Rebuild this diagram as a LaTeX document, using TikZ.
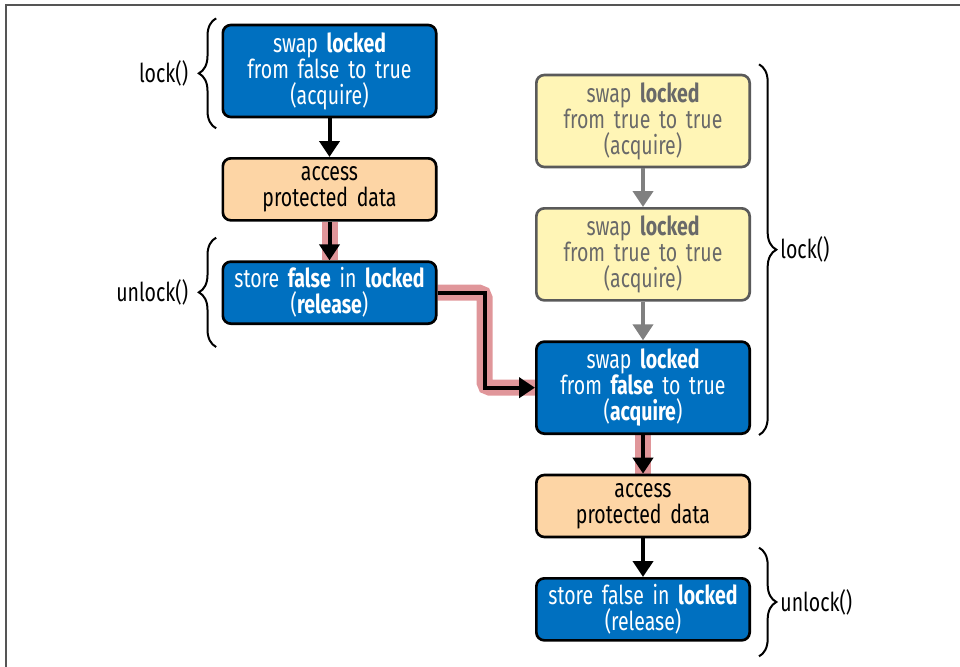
\documentclass[tikz,border=0pt]{standalone}
\usepackage{fontspec}
\setmainfont{Fira Sans}[FakeStretch=0.75, WordSpace=0.55]
\usetikzlibrary{positioning,arrows.meta,backgrounds,decorations.pathreplacing}
\definecolor{lockblue}{RGB}{0,112,192}
\definecolor{dataorange}{RGB}{253,213,165}
\definecolor{spinyellow}{RGB}{255,245,182}
\definecolor{spinborder}{RGB}{90,90,90}
\definecolor{spintext}{RGB}{105,105,105}
\definecolor{arrowgray}{RGB}{128,128,128}
\definecolor{hlpink}{RGB}{224,150,154}
\definecolor{framegray}{RGB}{85,85,85}
\tikzset{
  bx/.style={rectangle, rounded corners=6pt, minimum width=160pt, minimum height=46.5pt, text width=150pt, align=center, draw=black, line width=2pt, inner sep=2pt, font=\fontsize{19.5}{19.5}\selectfont},
  lk/.style={bx, fill=lockblue, text=white},
  dt/.style={bx, fill=dataorange},
  sp/.style={bx, fill=spinyellow, draw=spinborder, text=spintext},
  tall/.style={minimum height=69pt},
  ar/.style={line width=3pt, -{Triangle[width=15pt,length=12pt]}},
  hl/.style={line width=12pt, draw=hlpink, rounded corners=4pt},
  br/.style={decorate, decoration={brace, amplitude=13pt}, line width=1.5pt},
  lbl/.style={font=\fontsize{19.5}{19.5}\selectfont},
  node distance=29pt
}
\begin{document}
\begin{tikzpicture}[x=0.75pt, y=-0.75pt]
	\useasboundingbox (0,0) rectangle (960,667);
	\draw[framegray, line width=2pt] (6,667) -- (6,5) -- (960,5);
	% left thread
	\node[lk, tall] (lockA) at (329.5,71) {swap \textbf{locked}\\from false to true\\(acquire)};
	\node[dt, below=of lockA] (dataA) {access\\protected data};
	\node[lk, below=of dataA] (unlockA) {store \textbf{false} in \textbf{locked}\\(\textbf{release})};
	% right thread
	\node[sp, tall] (spinA) at (643,121) {swap \textbf{locked}\\from true to true\\(acquire)};
	\node[sp, tall, below=of spinA] (spinB) {swap \textbf{locked}\\from true to true\\(acquire)};
	\node[lk, tall, below=of spinB] (lockB) {swap \textbf{locked}\\from \textbf{false} to true\\(\textbf{acquire})};
	\node[dt, below=of lockB] (dataB) {access\\protected data};
	\node[lk, below=of dataB] (unlockB) {store false in \textbf{locked}\\(release)};
	%
	\begin{scope}[on background layer]
		\draw[hl] (dataA) -- (unlockA);
		\draw[hl] (unlockA.east) -- ++(47,0) |- (lockB.west);
		\draw[hl] (lockB) -- (dataB);
	\end{scope}
	%
	\draw[ar] (lockA) -- (dataA);
	\draw[ar] (dataA) -- (unlockA);
	\draw[ar] (unlockA.east) -- ++(47,0) |- (lockB.west);
	\draw[ar, arrowgray] (spinA) -- (spinB);
	\draw[ar, arrowgray] (spinB) -- (lockB);
	\draw[ar] (lockB) -- (dataB);
	\draw[ar] (dataB) -- (unlockB);
	%
	\draw[br] ([xshift=-4pt,yshift=-7.5pt]lockA.south west) -- node[lbl, left=17pt] {lock()} ([xshift=-4pt,yshift=4pt]lockA.north west);
	\draw[br] ([xshift=-4pt,yshift=-16.5pt]unlockA.south west) -- node[lbl, left=17pt] {unlock()} ([xshift=-4pt,yshift=17pt]unlockA.north west);
	\draw[br] ([xshift=6pt,yshift=7pt]spinA.north east) -- node[lbl, right=12pt] {lock()} ([xshift=6pt]lockB.south east);
	\draw[br] ([xshift=6pt,yshift=22pt]unlockB.north east) -- node[lbl, right=12pt] {unlock()} ([xshift=6pt,yshift=-11pt]unlockB.south east);
\end{tikzpicture}
\end{document}
